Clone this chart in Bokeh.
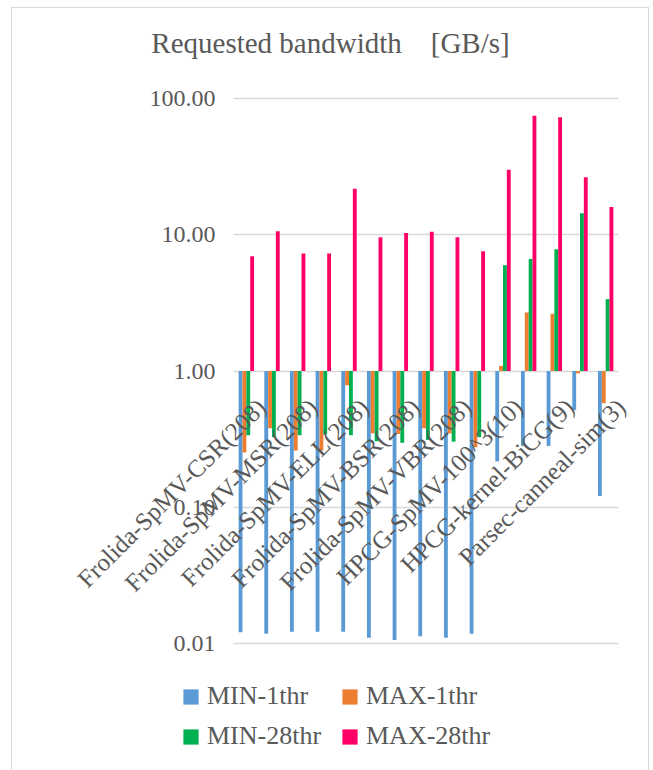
import math

from bokeh.embed import file_html
from bokeh.models import (FixedTicker, Label, Legend, LegendItem,
                          NumeralTickFormatter, Range1d)
from bokeh.plotting import figure
from bokeh.resources import INLINE

# Benchmarks (15 groups); only every second group carries a visible axis label
n_groups = 15
tick_labels = [
    "Frolida-SpMV-CSR(208)",
    "Frolida-SpMV-MSR(208)",
    "Frolida-SpMV-ELL(208)",
    "Frolida-SpMV-BSR(208)",
    "Frolida-SpMV-VBR(208)",
    "HPCG-SpMV-100^3(10)",
    "HPCG-kernel-BiCG(9)",
    "Parsec-canneal-sim(3)",
]
label_step = 2

# Requested bandwidth [GB/s]
min_1thr = [0.0121, 0.0118, 0.0122, 0.0122, 0.0122, 0.0110, 0.0106, 0.0113,
            0.0110, 0.0118, 0.217, 0.282, 0.282, 0.518, 0.121]
max_1thr = [0.252, 0.380, 0.261, 0.260, 0.785, 0.349, 0.345, 0.380,
            0.349, 0.276, 1.09, 2.69, 2.63, 0.96, 0.58]
min_28thr = [0.338, 0.327, 0.338, 0.342, 0.338, 0.305, 0.297, 0.312,
             0.303, 0.327, 5.98, 6.65, 7.83, 14.4, 3.37]
max_28thr = [6.96, 10.6, 7.28, 7.28, 21.8, 9.59, 10.3, 10.5,
             9.59, 7.57, 30.0, 74.7, 72.9, 26.4, 16.0]

series_names = ["MIN-1thr", "MAX-1thr", "MIN-28thr", "MAX-28thr"]
series_values = [min_1thr, max_1thr, min_28thr, max_28thr]
series_colors = ["#5B9BD5", "#ED7D31", "#00B050", "#FF0066"]

y_min, y_max = 0.01, 100.0
decade_ticks = [0.01, 0.1, 1, 10, 100]

FONT = "Liberation Serif"
TEXT = "#595959"
GRID = "#D9D9D9"

# Canvas and plot-area geometry (pixels). The frame fills the whole canvas so
# the rotated category labels, title and legend are never clipped; the ranges
# are widened so the value area lands at the wanted place.
W, H = 636, 762
PA_LEFT, PA_RIGHT, PA_TOP, PA_BOTTOM = 221, 606, 90, 635
unit = (PA_RIGHT - PA_LEFT) / n_groups
decade = (PA_BOTTOM - PA_TOP) / (math.log10(y_max) - math.log10(y_min))
x_start = -0.5 - PA_LEFT / unit
x_end = n_groups - 0.5 + (W - PA_RIGHT) / unit
y_top = 10 ** (math.log10(y_max) + PA_TOP / decade)
y_bottom = 10 ** (math.log10(y_min) - (H - PA_BOTTOM) / decade)

p = figure(
    width=W, height=H,
    margin=(8, 0, 0, 12),
    styles={"outline": "1.5px solid #D9D9D9"},
    x_range=Range1d(x_start, x_end),
    y_range=Range1d(y_bottom, y_top),
    y_axis_type="log",
    output_backend="svg",
    toolbar_location=None,
    title="",
    min_border=0,
)
p.outline_line_color = None

decades = FixedTicker(ticks=decade_ticks)
ya = p.yaxis[0]
ya.fixed_location = -0.5
ya.ticker = decades
ya.formatter = NumeralTickFormatter(format="0.00")
ya.axis_line_color = None
ya.major_tick_line_color = None
ya.minor_tick_line_color = None
ya.major_tick_out = 0
ya.minor_tick_out = 0
ya.major_label_standoff = 18
ya.major_label_text_font = FONT
ya.major_label_text_font_size = "24px"
ya.major_label_text_color = TEXT
p.ygrid.ticker = decades
p.ygrid.cross_bounds = (-0.5, n_groups - 0.5)
p.ygrid.grid_line_color = GRID
p.ygrid.grid_line_width = 1.3
p.ygrid.minor_grid_line_color = None
p.xgrid.visible = False

# Category axis crosses the value axis at 1.0; labels rotated 45 degrees
label_shift = 0.6
label_pos = [i + label_shift for i in range(0, n_groups, label_step)]
xa = p.xaxis[0]
xa.fixed_location = 1
xa.ticker = FixedTicker(ticks=label_pos)
xa.major_label_overrides = dict(zip(label_pos, tick_labels))
xa.major_label_orientation = math.pi / 4
xa.axis_line_color = None
xa.major_tick_line_color = None
xa.minor_tick_line_color = None
xa.major_tick_out = 0
xa.minor_tick_out = 0
xa.major_label_standoff = 32
xa.major_label_text_font = FONT
xa.major_label_text_font_size = "25px"
xa.major_label_text_color = TEXT

# Clustered bars grow from 1.0 (the axis crossing) up or down
bar_w = 0.15
items = []
for k, (name, vals, color) in enumerate(zip(series_names, series_values, series_colors)):
    offset = (k - 1.5) * bar_w
    xs = [i + offset for i in range(n_groups)]
    r = p.vbar(x=xs, width=bar_w, bottom=1, top=vals,
               fill_color=color, line_color=None)
    items.append(LegendItem(label=name, renderers=[r]))

# Chart title
p.add_layout(Label(
    x=318, y=H - 34, x_units="screen", y_units="screen",
    text="Requested bandwidth\u3000[GB/s]",
    text_align="center", text_baseline="alphabetic",
    text_font=FONT, text_font_size="29px", text_color=TEXT,
))

legend = Legend(
    items=items, location=(169, 19),
    orientation="horizontal", ncols=2,
    label_text_font=FONT, label_text_font_size="26px", label_text_color=TEXT,
    glyph_width=19, glyph_height=19, label_standoff=7,
    label_width=123, label_height=30, spacing=10,
    padding=0, margin=0, border_line_color=None, background_fill_alpha=0,
)
p.add_layout(legend)

open("out.html", "w").write(file_html(p, INLINE))
